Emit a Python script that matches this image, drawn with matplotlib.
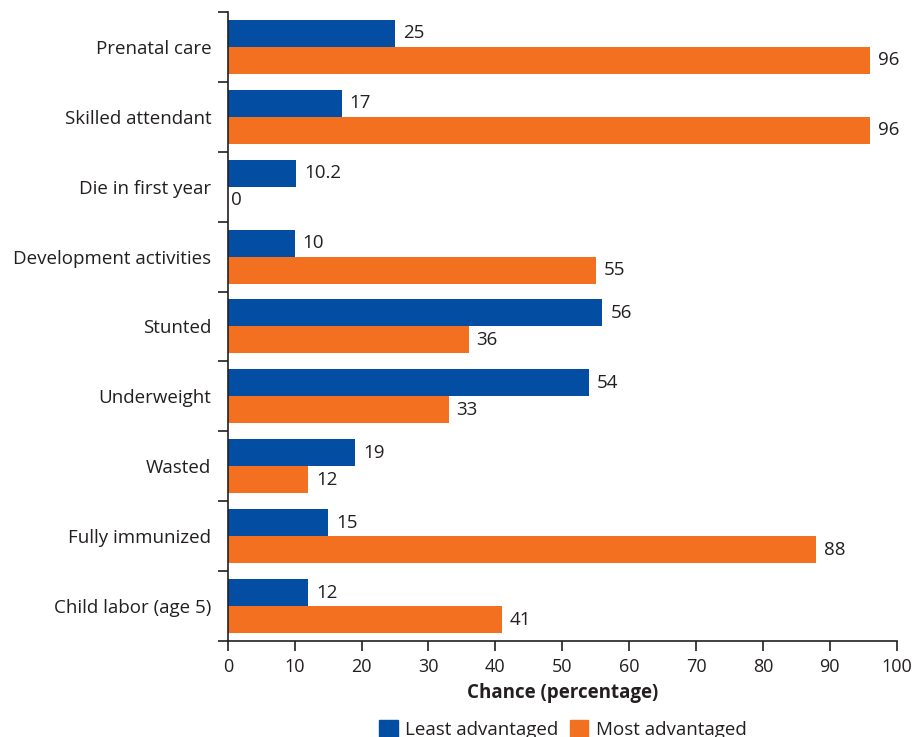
import numpy as np
import matplotlib
matplotlib.use("Agg")
import matplotlib.pyplot as plt
from matplotlib.patches import Patch

plt.rcParams['font.family'] = ['Open Sans', 'DejaVu Sans']

kategorije = ["Prenatal care", "Skilled attendant", "Die in first year",
              "Development activities", "Stunted", "Underweight", "Wasted",
              "Fully immunized", "Child labor (age 5)"]
least = [25, 17, 10.2, 10, 56, 54, 19, 15, 12]
most = [96, 96, 0, 55, 36, 33, 12, 88, 41]
least_lbl = ["25", "17", "10.2", "10", "56", "54", "19", "15", "12"]
most_lbl = ["96", "96", "0", "55", "36", "33", "12", "88", "41"]

modra = "#034EA2"
oranzna = "#F37021"
tekst = "#231F20"

fig = plt.figure(figsize=(9.15, 7.37), dpi=100)
ax = fig.add_axes([0.249, 0.130, 0.731, 0.854])

n = len(kategorije)
y = np.arange(n)
h = 0.386
ax.barh(y - h / 2, least, height=h, color=modra)
ax.barh(y + h / 2, most, height=h, color=oranzna)

for i in range(n):
    ax.text(least[i] + 1.2, y[i] - h / 2, least_lbl[i], va="center", ha="left",
            fontsize=13.5, color=tekst)
    ax.text(most[i] + 1.2 if most[i] > 0 else 0.4, y[i] + h / 2, most_lbl[i],
            va="center", ha="left", fontsize=13.5, color=tekst)

ax.set_xlim(0, 100)
ax.set_ylim(n - 0.5, -0.5)
ax.set_xticks(np.arange(0, 101, 10))
ax.set_yticks(y)
ax.set_yticklabels(kategorije)
ax.set_yticks(np.arange(-0.5, n, 1), minor=True)
ax.tick_params(axis="y", which="major", length=0, pad=12, labelsize=13.5, labelcolor=tekst)
ax.tick_params(axis="y", which="minor", length=7, width=1.2, color=tekst)
ax.tick_params(axis="x", length=7, width=1.2, color=tekst, labelsize=13,
               labelcolor=tekst, pad=5)
for s in ["top", "right"]:
    ax.spines[s].set_visible(False)
for s in ["left", "bottom"]:
    ax.spines[s].set_linewidth(1.2)
    ax.spines[s].set_color(tekst)

ax.set_xlabel("Chance (percentage)", fontsize=13.5, fontweight="bold", color=tekst, labelpad=5)

handles = [Patch(color=modra, label="Least advantaged"),
           Patch(color=oranzna, label="Most advantaged")]
fig.legend(handles=handles, loc="lower center", bbox_to_anchor=(0.615, -0.025), ncol=2,
           frameon=False, fontsize=13.5, handlelength=1.0, handleheight=1.0,
           handletextpad=0.4, columnspacing=0.6, labelcolor=tekst)

fig.savefig("out.png", dpi=100)
